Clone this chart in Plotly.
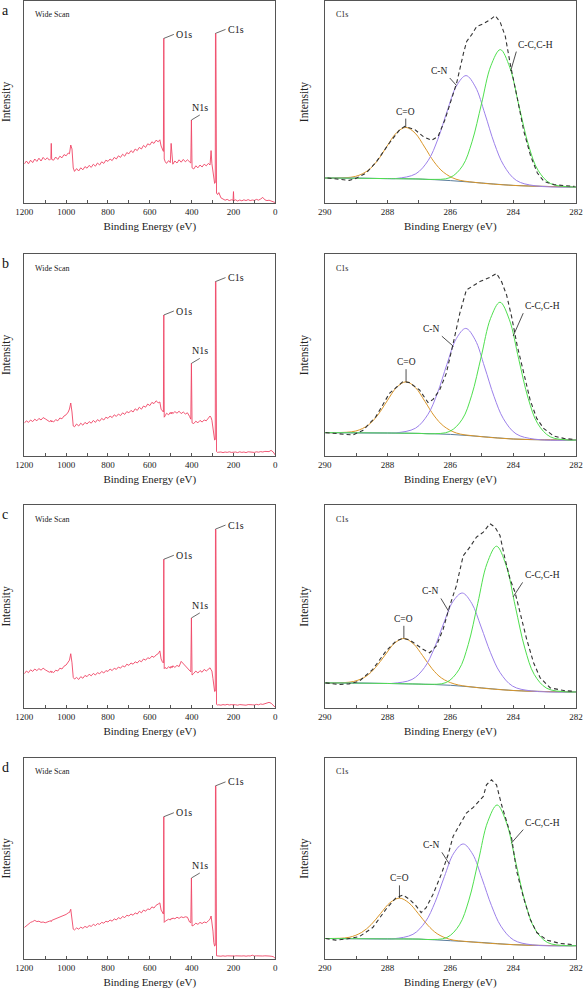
import plotly.graph_objects as go

# ---------------- Wide scan data (shared energy grid, eV) ----------------
E_WIDE = [1200, 1190, 1180, 1170, 1160, 1150, 1140, 1130, 1120, 1110, 1100, 1090, 1080,
          1073, 1071, 1069,
          1060, 1050, 1040, 1030, 1020, 1010, 1000, 990,
          984, 978, 972, 966,
          960, 950, 940, 930, 920, 910, 900, 890, 880, 870, 860, 850, 840, 830, 820, 810, 800, 790, 780, 770, 760,
          750, 740, 730, 720, 710, 700, 690, 680, 670, 660, 650, 640, 630, 620, 610, 600, 590, 580, 570, 560,
          552, 546, 540, 535, 533, 531, 526,
          520, 510, 502, 498, 494,
          490, 480, 470, 460, 450, 440, 430, 420, 410,
          404, 401, 398,
          390, 380, 370, 360, 350, 340, 330, 320,
          312, 307, 303, 298, 294, 290, 287, 286, 284, 281, 276,
          270, 260, 250, 240, 230, 220, 210,
          202, 200, 198,
          190, 180, 170, 160, 150, 140, 130, 120, 110, 100, 90, 80, 70, 60, 50, 40, 30, 20, 10, 0]

WIDE_A = [19.5, 21.0, 19.6, 21.4, 20.2, 22.0, 20.8, 22.4, 21.0, 22.8, 21.6, 22.6, 21.4,
          22.2, 29.8, 21.8,
          21.4, 23.0, 21.8, 23.4, 22.6, 24.2, 23.6, 25.0,
          24.6, 29.0, 27.0, 17.5,
          15.8, 17.2, 16.0, 17.6, 16.6, 18.2, 17.4, 18.8, 17.8, 19.4, 18.4, 20.0, 19.0, 20.6, 19.8, 21.4, 20.8, 22.0, 21.2, 22.8, 22.0,
          23.6, 22.8, 24.4, 23.4, 25.2, 24.6, 26.2, 25.2, 27.0, 26.2, 27.8, 27.0, 28.8, 27.8, 29.6, 29.0, 30.6, 29.8, 31.4, 30.6,
          31.6, 28.5, 26.8, 25.8, 82.3, 22.0, 20.6,
          19.8, 21.2, 20.2, 29.8, 20.4,
          19.4, 21.0, 20.0, 21.6, 20.4, 21.8, 20.6, 21.6, 20.8,
          20.0, 41.5, 17.6,
          17.0, 18.6, 17.6, 19.0, 18.0, 19.4, 18.6, 19.8,
          19.0, 26.2, 19.6, 15.0, 10.8, 9.8, 10.2, 84.8, 84.5, 5.0, 4.2,
          5.2, 2.6, 2.0, 1.4, 1.8, 1.2, 1.6,
          1.4, 5.7, 1.2,
          1.6, 1.0, 1.5, 1.1, 1.6, 1.2, 1.7, 1.2, 1.5, 1.3, 1.8, 1.4, 2.0, 2.8, 1.6, 1.2, 1.4, 1.0, 0.8, 0.2]

WIDE_B = [16.4, 17.6, 16.8, 18.0, 17.2, 18.4, 17.6, 18.8, 18.0, 19.2, 18.6, 18.0, 17.2,
          17.8, 17.0, 17.6,
          17.0, 18.2, 17.6, 19.0, 18.6, 20.0, 20.6, 22.0,
          23.5, 26.5, 22.0, 15.0,
          14.6, 16.0, 15.0, 16.4, 15.4, 16.8, 16.0, 17.2, 16.4, 17.8, 16.8, 18.2, 17.4, 18.8, 18.0, 19.4, 18.8, 20.0, 19.2, 20.6, 19.8,
          21.0, 20.2, 21.6, 20.8, 22.2, 21.6, 22.8, 22.0, 23.6, 22.8, 24.4, 23.4, 25.0, 24.4, 26.0, 25.2, 26.8, 26.2, 27.6, 26.6,
          27.0, 23.4, 22.6, 22.0, 70.5, 19.4, 20.2,
          21.4, 20.6, 21.8, 21.0, 22.0,
          21.2, 22.2, 21.4, 22.4, 21.2, 22.0, 21.0, 21.6, 19.8,
          18.4, 46.3, 16.6,
          16.2, 17.4, 16.6, 17.8, 17.0, 18.0, 17.6, 19.0,
          20.0, 19.2, 17.8, 14.0, 9.0, 8.0, 8.2, 87.2, 86.8, 2.2, 1.8,
          1.9, 2.0, 1.7, 2.0, 1.8, 2.1, 1.8,
          2.0, 2.2, 1.9,
          2.0, 1.7, 2.1, 1.8, 2.0, 1.7, 2.1, 1.9, 2.0, 1.8, 2.1, 1.9, 2.2, 2.0, 2.3, 2.4, 2.2, 2.8, 2.0, 0.5]

WIDE_C = [17.0, 18.4, 17.6, 19.0, 18.2, 19.4, 18.6, 19.6, 18.8, 19.8, 19.0, 18.4, 17.8,
          18.4, 17.6, 18.2,
          17.6, 18.8, 18.4, 19.8, 19.4, 20.8, 21.4, 22.6,
          23.8, 27.0, 22.5, 15.2,
          14.4, 15.2, 14.2, 15.6, 14.8, 16.2, 15.6, 16.8, 16.0, 17.2, 16.4, 17.6, 17.0, 18.2, 17.4, 18.6, 18.2, 19.4, 18.6, 19.8, 19.2,
          20.4, 19.8, 21.0, 20.4, 21.8, 21.2, 22.4, 21.8, 23.0, 22.4, 23.6, 23.0, 24.4, 23.8, 25.0, 24.6, 25.8, 25.2, 26.4, 27.0,
          28.4, 24.4, 23.0, 22.4, 74.0, 19.6, 20.2,
          19.4, 20.6, 19.8, 20.8, 20.0,
          21.0, 20.2, 21.2, 20.6, 23.2, 22.0, 21.2, 20.0, 18.4,
          18.0, 44.8, 16.4,
          17.2, 18.4, 17.4, 18.6, 17.8, 19.2, 18.4, 19.6,
          20.0, 19.0, 18.4, 14.6, 9.0, 8.2, 8.4, 89.0, 88.6, 1.8, 1.5,
          1.6, 1.4, 1.7, 1.5, 1.8, 1.5, 1.7,
          1.5, 1.9, 1.6,
          1.6, 1.4, 1.7, 1.5, 1.6, 1.4, 1.7, 1.5, 1.6, 1.5, 1.8, 1.6, 2.0, 1.8, 2.2, 2.4, 2.8, 2.4, 1.4, 0.3]

WIDE_D = [15.8, 16.8, 17.4, 18.4, 18.8, 19.4, 18.8, 19.0, 18.4, 18.6, 18.2, 18.8, 19.0,
          19.2, 18.8, 19.4,
          19.8, 20.2, 20.6, 21.0, 21.2, 21.8, 22.4, 23.2,
          23.4, 25.0, 21.0, 15.0,
          14.6, 15.6, 15.0, 16.0, 15.4, 16.4, 15.8, 16.8, 16.4, 17.4, 16.8, 17.8, 17.4, 18.4, 18.0, 19.0, 18.6, 19.6, 19.0, 20.2, 19.6,
          20.8, 20.2, 21.4, 20.8, 22.0, 21.6, 22.6, 22.0, 23.2, 22.6, 24.0, 23.2, 24.6, 24.0, 25.2, 24.8, 26.2, 25.6, 27.0, 27.6,
          28.2, 24.6, 23.2, 22.6, 71.5, 18.4, 19.0,
          19.4, 20.0, 19.6, 20.4, 20.0,
          20.6, 20.2, 21.0, 20.4, 21.2, 20.8, 21.2, 21.0, 18.6,
          18.2, 40.7, 16.6,
          17.0, 18.0, 17.4, 18.4, 17.8, 18.6, 18.2, 19.2,
          20.0, 21.6, 19.0, 14.0, 8.2, 6.5, 6.8, 87.0, 86.6, 1.6, 1.5,
          1.5, 1.4, 1.6, 1.4, 1.6, 1.5, 1.7,
          1.5, 1.7, 1.4,
          1.6, 1.5, 1.7, 1.5, 1.6, 1.4, 1.6, 1.5, 1.9, 1.5, 1.6, 1.5, 1.7, 1.5, 1.6, 1.4, 1.5, 1.4, 1.2, 0.3]

WIDE_PEAKS = ["O1s", "N1s", "C1s"]
WIDE_PEAK_E = [533, 401, 286]

# ---------------- C1s high-resolution data (eV) ----------------
BG_X = [290, 289, 288, 287, 286, 285, 284, 283, 282]

# panel a
A_BG = [12.5, 12.4, 12.2, 12.0, 11.2, 10.0, 8.8, 8.3, 8.0]
A_CO_X = [290, 289.62, 289.02, 288.62, 288.32, 288.02, 287.72, 287.42, 287.12, 286.82, 286.52, 286.22, 285.82, 285.22, 284, 283, 282]
A_CO_Y = [12.5, 12.5, 13.3, 16.3, 21.2, 28.3, 35.0, 37.8, 34.9, 28.0, 20.6, 15.4, 11.9, 10.3, 8.8, 8.3, 8.0]
A_CN_X = [290, 289, 288, 287.7, 287.1, 286.7, 286.4, 286.1, 285.8, 285.5, 285.2, 284.9, 284.6, 284.3, 283.9, 283.3, 282]
A_CN_Y = [12.5, 12.4, 12.2, 12.3, 14.6, 21.4, 31.8, 46.0, 58.7, 63.7, 58.0, 44.6, 29.8, 18.8, 11.3, 8.6, 8.0]
A_CC_X = [290, 289, 288, 287, 286.61, 286.01, 285.61, 285.31, 285.01, 284.71, 284.41, 284.11, 283.81, 283.51, 283.21, 282.81, 282.21, 282]
A_CC_Y = [12.5, 12.4, 12.2, 12.0, 11.8, 12.7, 18.6, 30.6, 49.5, 68.6, 76.7, 67.9, 48.2, 28.8, 16.4, 9.7, 8.1, 8.0]
A_ENV_X = [289.91, 289.54, 289.22, 289.01, 288.68, 288.36, 287.94, 287.61, 287.45, 287.13, 286.87, 286.60, 286.39, 286.17, 285.96, 285.80, 285.58, 285.48, 285.32, 285.16, 284.94, 284.73, 284.57, 284.41, 284.25, 284.09, 283.87, 283.66, 283.44, 283.23, 283.02, 282.70, 282.37, 282.05]
A_ENV_Y = [12.5, 12.0, 11.3, 12.3, 15.0, 20.5, 30.0, 36.7, 38.3, 36.7, 33.3, 31.3, 33.3, 41.7, 51.7, 60.0, 75.0, 80.8, 84.2, 88.3, 89.7, 91.7, 93.7, 90.3, 83.3, 69.2, 52.5, 35.8, 23.3, 15.0, 10.8, 9.2, 8.7, 8.3]

# panel b
B_BG = [11.7, 11.6, 11.5, 11.3, 10.8, 9.7, 8.5, 8.1, 8.0]
B_CO_X = [290, 289.61, 289.01, 288.61, 288.31, 288.01, 287.71, 287.41, 287.11, 286.81, 286.51, 286.21, 285.81, 285.21, 284, 283, 282]
B_CO_Y = [11.7, 11.7, 12.5, 15.5, 20.5, 27.6, 34.3, 37.1, 34.2, 27.3, 20.0, 14.9, 11.5, 10.0, 8.5, 8.1, 8.0]
B_CN_X = [290, 289, 288, 287.71, 287.11, 286.71, 286.41, 286.11, 285.81, 285.51, 285.21, 284.91, 284.61, 284.31, 283.91, 283.31, 282]
B_CN_Y = [11.7, 11.6, 11.5, 11.6, 13.9, 20.9, 31.5, 45.8, 58.7, 63.8, 58.1, 44.5, 29.8, 18.6, 11.1, 8.4, 8.0]
B_CC_X = [290, 289, 288, 287, 286.62, 286.02, 285.62, 285.32, 285.02, 284.72, 284.42, 284.12, 283.82, 283.52, 283.22, 282.82, 282.22, 282]
B_CC_Y = [11.7, 11.6, 11.5, 11.3, 11.1, 12.3, 18.4, 30.4, 49.5, 68.8, 76.9, 68.1, 48.2, 28.7, 16.2, 9.6, 8.0, 8.0]
B_ENV_X = [289.97, 289.43, 289.11, 288.79, 288.37, 287.94, 287.51, 287.30, 286.98, 286.71, 286.55, 286.34, 286.13, 285.91, 285.70, 285.49, 285.33, 285.06, 284.74, 284.53, 284.37, 284.21, 284.05, 283.87, 283.66, 283.46, 283.25, 283.03, 282.71, 282.39, 282.07]
B_ENV_Y = [11.7, 11.0, 10.5, 12.7, 19.7, 31.3, 37.2, 36.7, 33.0, 26.7, 28.3, 33.0, 41.3, 56.3, 71.3, 83.0, 84.7, 87.2, 89.3, 91.3, 87.2, 80.5, 69.7, 55.0, 41.3, 28.0, 18.8, 13.8, 10.0, 8.8, 8.3]

# panel c
C_BG = [12.5, 12.4, 12.2, 11.9, 11.3, 10.0, 8.7, 8.2, 8.0]
C_CO_X = [290, 289.68, 289.08, 288.68, 288.38, 288.08, 287.78, 287.48, 287.18, 286.88, 286.58, 286.28, 285.88, 285.28, 284, 283, 282]
C_CO_Y = [12.5, 12.5, 13.2, 15.8, 20.2, 26.3, 32.2, 34.6, 32.0, 26.0, 19.5, 14.9, 12.0, 10.4, 8.7, 8.2, 8.0]
C_CN_X = [290, 289, 288, 287.82, 287.22, 286.82, 286.52, 286.22, 285.92, 285.62, 285.32, 285.02, 284.72, 284.42, 284.02, 283.42, 282]
C_CN_Y = [12.5, 12.4, 12.2, 12.3, 14.2, 20.2, 29.4, 41.8, 52.9, 57.2, 52.1, 40.3, 27.5, 17.7, 10.9, 8.5, 8.0]
C_CC_X = [290, 289, 288, 287, 286.73, 286.13, 285.73, 285.43, 285.13, 284.83, 284.53, 284.23, 283.93, 283.63, 283.33, 282.93, 282.33, 282]
C_CC_Y = [12.5, 12.4, 12.2, 11.9, 11.8, 12.7, 19.0, 31.6, 51.9, 72.0, 80.5, 71.2, 50.4, 29.8, 16.7, 9.8, 8.05, 8.0]
C_ENV_X = [289.97, 289.54, 289.22, 288.90, 288.47, 288.05, 287.73, 287.51, 287.30, 287.09, 286.87, 286.66, 286.45, 286.23, 286.02, 285.81, 285.59, 285.38, 285.17, 284.95, 284.74, 284.58, 284.42, 284.26, 284.10, 283.94, 283.78, 283.57, 283.35, 283.14, 282.82, 282.39, 282.07]
C_ENV_Y = [12.5, 11.7, 12.0, 13.3, 19.2, 28.3, 33.3, 34.7, 33.9, 31.7, 29.2, 27.5, 30.8, 39.2, 50.8, 60.8, 75.8, 80.0, 85.0, 87.5, 91.7, 90.0, 85.8, 74.2, 64.2, 57.5, 47.5, 34.2, 22.5, 15.0, 10.0, 8.7, 8.3]

# panel d
D_BG = [10.3, 10.2, 10.1, 10.0, 9.2, 8.3, 7.2, 6.8, 6.7]
D_CO_X = [290, 289.82, 289.22, 288.82, 288.52, 288.22, 287.92, 287.62, 287.32, 287.02, 286.72, 286.42, 286.02, 285.42, 284, 283, 282]
D_CO_Y = [10.3, 10.3, 10.9, 13.4, 17.3, 22.9, 28.3, 30.6, 28.2, 22.8, 17.0, 12.7, 9.9, 8.7, 7.2, 6.8, 6.7]
D_CN_X = [290, 289, 288, 287.79, 287.19, 286.79, 286.49, 286.19, 285.89, 285.59, 285.29, 284.99, 284.69, 284.39, 283.99, 283.39, 282]
D_CN_Y = [10.3, 10.2, 10.1, 10.2, 12.4, 18.8, 28.4, 41.4, 53.2, 57.8, 52.7, 40.3, 26.8, 16.5, 9.6, 7.1, 6.7]
D_CC_X = [290, 289, 288, 287, 286.71, 286.11, 285.71, 285.41, 285.11, 284.81, 284.51, 284.21, 283.91, 283.61, 283.31, 282.91, 282.31, 282]
D_CC_Y = [10.3, 10.2, 10.1, 10.0, 9.8, 10.8, 17.2, 29.6, 49.2, 69.0, 77.4, 68.3, 48.0, 28.0, 15.1, 8.3, 6.7, 6.7]
D_ENV_X = [289.97, 289.65, 289.33, 288.90, 288.47, 288.05, 287.73, 287.51, 287.30, 287.09, 286.93, 286.77, 286.55, 286.29, 286.07, 285.91, 285.70, 285.49, 285.27, 285.06, 284.95, 284.85, 284.69, 284.53, 284.37, 284.21, 284.05, 283.89, 283.67, 283.46, 283.25, 282.93, 282.50, 282.07]
D_ENV_Y = [10.3, 9.5, 10.0, 11.2, 15.8, 25.0, 30.8, 32.2, 30.0, 26.7, 23.3, 25.8, 32.5, 42.5, 52.5, 61.7, 67.5, 73.3, 76.2, 80.0, 81.7, 87.5, 90.0, 87.5, 77.5, 69.2, 60.8, 44.2, 30.8, 20.0, 13.3, 9.5, 7.8, 7.2]

# label anchors for C1s components: (head_x, head_y, tail_x, tail_y)
C1S_LABELS = ["C=O", "C-N", "C-C,C-H"]
A_LAB = [(287.42, 37.8, 287.42, 42.2), (285.8, 58.7, 286.02, 62.5), (284.08, 66.0, 283.9, 75.7)]
B_LAB = [(287.41, 37.1, 287.41, 43.4), (285.9, 54.8, 286.27, 59.9), (284.0, 60.0, 283.68, 71.4)]
C_LAB = [(287.48, 34.6, 287.48, 40.9), (286.05, 48.0, 286.3, 54.5), (284.0, 55.3, 283.7, 62.5)]
D_LAB = [(287.62, 30.6, 287.62, 37.0), (286.03, 47.7, 286.27, 53.6), (284.06, 58.2, 283.68, 65.0)]

PANEL_LETTERS = ["a", "b", "c", "d"]

# ---------------- styling ----------------
FONT = "Liberation Serif"
RED = "#ef4565"
ORANGE = "#d9962a"
PURPLE = "#9c80ea"
GREEN = "#4fdf4f"
BGCOL = "#5a7d9c"
AXC = "#555555"

W, H = 584, 992
XL = [24.3 / W, 275.3 / W]
XR = [324.7 / W, 576.0 / W]
ROWS_PX = [(1, 203), (254, 456), (505, 708), (758, 959)]

fig = go.Figure()

wide_sets = [WIDE_A, WIDE_B, WIDE_C, WIDE_D]
c1s_sets = [
    (A_BG, A_CO_X, A_CO_Y, A_CN_X, A_CN_Y, A_CC_X, A_CC_Y, A_ENV_X, A_ENV_Y, A_LAB),
    (B_BG, B_CO_X, B_CO_Y, B_CN_X, B_CN_Y, B_CC_X, B_CC_Y, B_ENV_X, B_ENV_Y, B_LAB),
    (C_BG, C_CO_X, C_CO_Y, C_CN_X, C_CN_Y, C_CC_X, C_CC_Y, C_ENV_X, C_ENV_Y, C_LAB),
    (D_BG, D_CO_X, D_CO_Y, D_CN_X, D_CN_Y, D_CC_X, D_CC_Y, D_ENV_X, D_ENV_Y, D_LAB),
]

annotations = []
layout_axes = {}


def axis_common():
    return dict(showline=True, linecolor=AXC, linewidth=1, mirror=True,
                ticks="inside", ticklen=3, tickcolor=AXC, tickwidth=1,
                tickfont=dict(family=FONT, size=9, color="#222"),
                showgrid=False, zeroline=False, automargin=False)


XT = dict(text="Binding Energy (eV)", font=dict(family=FONT, size=11, color="#222"), standoff=6)
YT = dict(text="Intensity", font=dict(family=FONT, size=11.5, color="#222"), standoff=12)

for r in range(4):
    top, bot = ROWS_PX[r]
    ydom = [1 - bot / H, 1 - top / H]
    li = 2 * r + 1
    ri = 2 * r + 2
    lx, ly = ("x" if li == 1 else f"x{li}"), ("y" if li == 1 else f"y{li}")
    rx, ry = f"x{ri}", f"y{ri}"
    lxn, lyn = ("xaxis" if li == 1 else f"xaxis{li}"), ("yaxis" if li == 1 else f"yaxis{li}")
    rxn, ryn = f"xaxis{ri}", f"yaxis{ri}"

    # --- wide scan
    vals = wide_sets[r]
    fig.add_trace(go.Scatter(x=E_WIDE, y=vals, mode="lines", xaxis=lx, yaxis=ly,
                             line=dict(color=RED, width=0.9), showlegend=False, hoverinfo="skip"))
    xa = axis_common()
    xa.update(domain=XL, anchor=ly, range=[1200, 0], tick0=0, dtick=200,
              minor=dict(ticks="inside", ticklen=3, tickcolor=AXC, dtick=100, tick0=0),
              title=XT)
    ya = axis_common()
    ya.update(domain=ydom, anchor=lx, range=[0, 101], ticks="", showticklabels=False, title=YT)
    layout_axes[lxn] = xa
    layout_axes[lyn] = ya

    # peak labels in wide scan
    for name, e in zip(WIDE_PEAKS, WIDE_PEAK_E):
        hy = vals[E_WIDE.index(e)]
        if name == "N1s":
            annotations.append(dict(x=e, y=hy, ax=e - 40, ay=hy + 2.5, xref=lx, yref=ly, axref=lx, ayref=ly,
                                    text=name, showarrow=True, arrowhead=0, arrowwidth=0.8, arrowcolor="#444",
                                    xanchor="center", yanchor="bottom",
                                    font=dict(family=FONT, size=10, color="#222")))
        else:
            annotations.append(dict(x=e, y=hy, ax=e - 48, ay=hy + 2, xref=lx, yref=ly, axref=lx, ayref=ly,
                                    text=name, showarrow=True, arrowhead=0, arrowwidth=0.8, arrowcolor="#444",
                                    xanchor="left", yanchor="middle",
                                    font=dict(family=FONT, size=10, color="#222")))
    annotations.append(dict(x=9 / 251, y=1 - 14 / 202, xref=f"{lx} domain", yref=f"{ly} domain",
                            text="Wide Scan", showarrow=False, xanchor="left", yanchor="middle",
                            font=dict(family=FONT, size=8, color="#222")))

    # --- C1s
    bg, cox, coy, cnx, cny, ccx, ccy, envx, envy, lab = c1s_sets[r]
    fig.add_trace(go.Scatter(x=BG_X, y=bg, mode="lines", xaxis=rx, yaxis=ry,
                             line=dict(color=BGCOL, width=1, shape="spline"), showlegend=False, hoverinfo="skip"))
    fig.add_trace(go.Scatter(x=cox, y=coy, mode="lines", xaxis=rx, yaxis=ry,
                             line=dict(color=ORANGE, width=1, shape="spline"), showlegend=False, hoverinfo="skip"))
    fig.add_trace(go.Scatter(x=cnx, y=cny, mode="lines", xaxis=rx, yaxis=ry,
                             line=dict(color=PURPLE, width=1, shape="spline"), showlegend=False, hoverinfo="skip"))
    fig.add_trace(go.Scatter(x=ccx, y=ccy, mode="lines", xaxis=rx, yaxis=ry,
                             line=dict(color=GREEN, width=1, shape="spline"), showlegend=False, hoverinfo="skip"))
    fig.add_trace(go.Scatter(x=envx, y=envy, mode="lines", xaxis=rx, yaxis=ry,
                             line=dict(color="#333333", width=1.1, dash="4px,3px"), showlegend=False, hoverinfo="skip"))
    xa = axis_common()
    xa.update(domain=XR, anchor=ry, range=[290, 282], tick0=282, dtick=2,
              minor=dict(ticks="inside", ticklen=3, tickcolor=AXC, dtick=1, tick0=282),
              title=XT)
    ya = axis_common()
    ya.update(domain=ydom, anchor=rx, range=[0, 101], ticks="", showticklabels=False, title=YT)
    layout_axes[rxn] = xa
    layout_axes[ryn] = ya

    anchors = [("center", "bottom"), ("right", "bottom"), ("left", "bottom")]
    for name, (hx, hy, tx, ty), (xan, yan) in zip(C1S_LABELS, lab, anchors):
        annotations.append(dict(x=hx, y=hy, ax=tx, ay=ty, xref=rx, yref=ry, axref=rx, ayref=ry,
                                text=name, showarrow=True, arrowhead=0, arrowwidth=0.8, arrowcolor="#222",
                                xanchor=xan, yanchor=yan,
                                font=dict(family=FONT, size=9.5, color="#222")))
    annotations.append(dict(x=9 / 251, y=1 - 14 / 202, xref=f"{rx} domain", yref=f"{ry} domain",
                            text="C1s", showarrow=False, xanchor="left", yanchor="middle",
                            font=dict(family=FONT, size=8, color="#222")))

    # panel letter
    annotations.append(dict(x=5 / W, y=1 - (top + 9) / H, xref="paper", yref="paper",
                            text=PANEL_LETTERS[r], showarrow=False, xanchor="center", yanchor="middle",
                            font=dict(family=FONT, size=14, color="#111")))

fig.update_layout(width=W, height=H, margin=dict(l=0, r=0, t=0, b=0, autoexpand=False),
                  paper_bgcolor="white", plot_bgcolor="white",
                  annotations=annotations, showlegend=False, **layout_axes)

fig.write_html("out.html", config={"displayModeBar": False},
               post_script="document.body.style.margin='0';document.body.style.overflow='hidden';")
